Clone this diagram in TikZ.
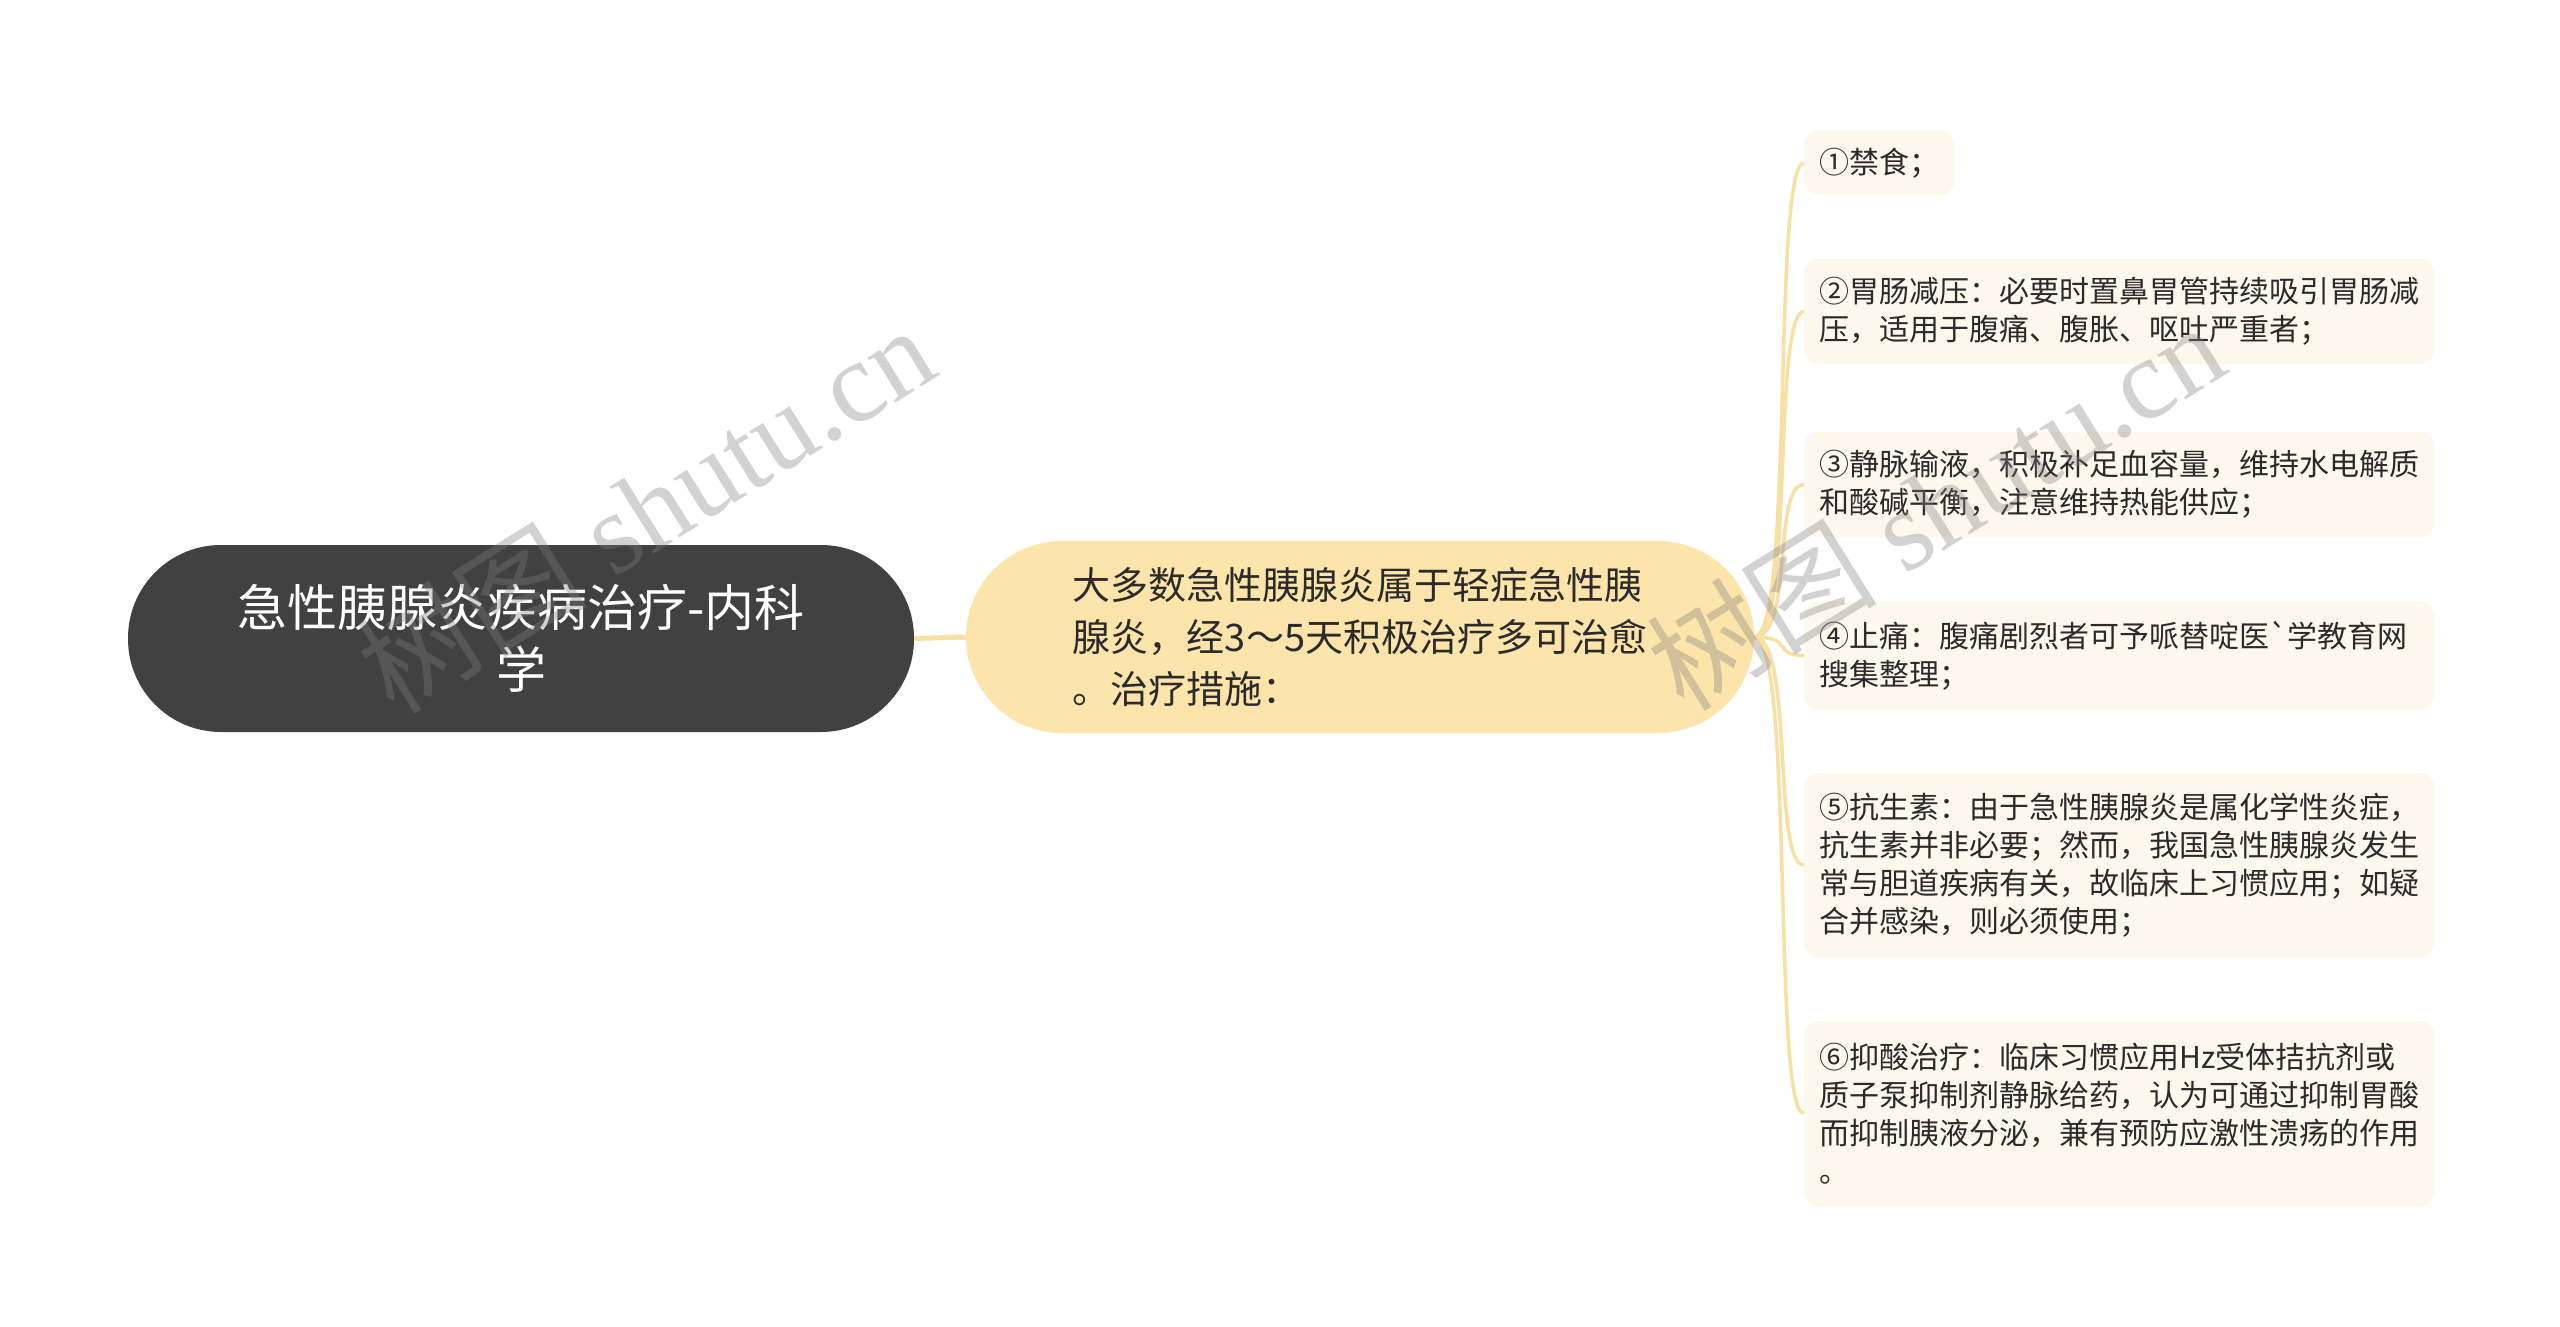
\documentclass[tikz,border=0pt]{standalone}
\usepackage{fontspec}
\newfontfamily\cjk{Noto Sans CJK SC}
\newfontfamily\wmserif{Liberation Serif}
\definecolor{rootfill}{HTML}{414141}
\definecolor{midfill}{HTML}{FDE4AA}
\definecolor{leaffill}{HTML}{FDF8EC}
\definecolor{linecol}{HTML}{F8DFA2}
\definecolor{txt}{HTML}{2B2B2B}
\begin{document}
\begin{tikzpicture}[x=1pt,y=-1pt,
  rootbox/.style={fill=rootfill, text=white, rounded corners=93pt, minimum width=786pt, minimum height=187pt, align=center, inner sep=0pt, font=\cjk\fontsize{50}{62}\selectfont},
  midbox/.style={fill=midfill, text=txt, rounded corners=96pt, minimum width=788pt, minimum height=192pt, align=left, inner sep=0pt, font=\cjk\fontsize{38}{52}\selectfont},
  leafbox/.style={fill=leaffill, text=txt, rounded corners=14pt, anchor=west, align=left, inner xsep=15pt, inner ysep=0pt, font=\cjk\fontsize{30}{38}\selectfont},
  wideleaf/.style={leafbox, text width=600pt},
  conn/.style={draw=linecol, line width=5pt},
  branch/.style={draw=linecol, line width=3.5pt},
  wm/.style={text=gray, opacity=0.35, rotate=32, font=\wmserif\fontsize{115}{120}\selectfont}
]
\fill[white] (0,0) rectangle (2560,1327);
\useasboundingbox (0,0) rectangle (2560,1327);

\node[rootbox] (root) at (521,638.5) {急性胰腺炎疾病治疗-内科\\学};
\node[midbox] (mid) at (1360,637) {大多数急性胰腺炎属于轻症急性胰\\腺炎，经3～5天积极治疗多可治愈\\。治疗措施：};
\path (mid.center) +(5,0) coordinate (midc);

\node[leafbox, minimum height=64pt] (l1) at (1804,163) {①禁食；};
\node[wideleaf, minimum height=105pt] (l2) at (1804,311.5) {②胃肠减压：必要时置鼻胃管持续吸引胃肠减\\压，适用于腹痛、腹胀、呕吐严重者；};
\node[wideleaf, minimum height=105pt] (l3) at (1804,484.5) {③静脉输液，积极补足血容量，维持水电解质\\和酸碱平衡，注意维持热能供应；};
\node[wideleaf, minimum height=107pt] (l4) at (1804,655.5) {④止痛：腹痛剧烈者可予哌替啶医`学教育网\\搜集整理；};
\node[wideleaf, minimum height=184pt] (l5) at (1804,865) {⑤抗生素：由于急性胰腺炎是属化学性炎症，\\抗生素并非必要；然而，我国急性胰腺炎发生\\常与胆道疾病有关，故临床上习惯应用；如疑\\合并感染，则必须使用；};
\node[wideleaf, minimum height=185pt] (l6) at (1804,1113.5) {⑥抑酸治疗：临床习惯应用Hz受体拮抗剂或\\质子泵抑制剂静脉给药，认为可通过抑制胃酸\\而抑制胰液分泌，兼有预防应激性溃疡的作用\\。};

\draw[conn] (root.east) -- (mid.west);
\foreach \n in {l1,l2,l3,l4,l5,l6}{
  \draw[branch] (mid.east) .. controls +(40,0) and +(-32,0) .. (\n.west);
}

\node[wm] (wm1) at (645,508) {{\cjk 树图} shutu.cn};
\node[wm] (wm2) at (1935,505) {{\cjk 树图} shutu.cn};
\end{tikzpicture}
\end{document}
